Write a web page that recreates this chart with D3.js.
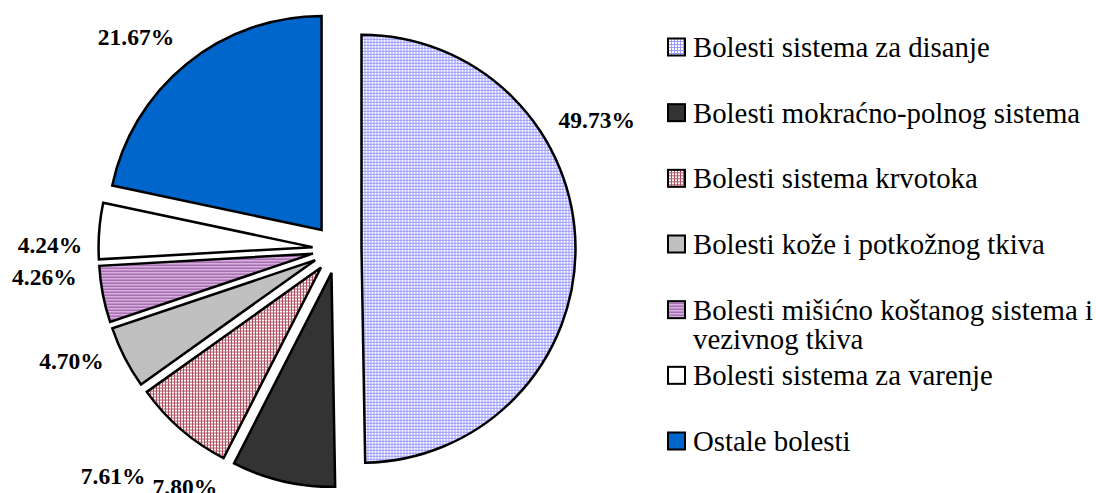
<!DOCTYPE html>
<html>
<head>
<meta charset="utf-8">
<script src="https://cdn.jsdelivr.net/npm/d3@7"></script>
<style>
  body { margin: 0; background: #fff; }
  svg { display: block; font-family: "Liberation Serif", "Times New Roman", serif; }
</style>
</head>
<body>
<svg id="chart" width="1096" height="493"></svg>
<script>
// data
var categories = [
  "Bolesti sistema za disanje",
  "Bolesti mokraćno-polnog sistema",
  "Bolesti sistema krvotoka",
  "Bolesti kože i potkožnog tkiva",
  "Bolesti mišićno koštanog sistema i vezivnog tkiva",
  "Bolesti sistema za varenje",
  "Ostale bolesti"
];
var shares = [49.73, 7.80, 7.61, 4.70, 4.26, 4.24, 21.67];
var shareLabels = ["49.73%", "7.80%", "7.61%", "4.70%", "4.26%", "4.24%", "21.67%"];

// fills: pattern ids or plain colours
var fills = ["url(#pDisanje)", "#333333", "url(#pKrvotok)", "#c0c0c0", "url(#pMisic)", "#ffffff", "#0066cc"];

// label placement tweaks (degrees off the slice middle, distance from centre)
var labelNudge = [-25.9, 19.6, 3.8, 4.3, 5.5, -3.5, -4.5];
var labelDist = [290, 282, 319, 288, 294, 287, 292];

var svg = d3.select("#chart"),
    cx = 337, cy = 249,
    radius = 214,
    explode = 24.5;

var defs = svg.append("defs");

var p1 = defs.append("pattern").attr("id", "pDisanje")
    .attr("patternUnits", "userSpaceOnUse").attr("width", 3).attr("height", 3);
p1.append("rect").attr("width", 3).attr("height", 3).attr("fill", "#9999ff");
p1.append("rect").attr("x", 1).attr("y", 1).attr("width", 2).attr("height", 2).attr("fill", "#ffffff");

var p2 = defs.append("pattern").attr("id", "pKrvotok")
    .attr("patternUnits", "userSpaceOnUse").attr("width", 3).attr("height", 3);
p2.append("rect").attr("width", 3).attr("height", 3).attr("fill", "#b05060");
p2.append("rect").attr("x", 1).attr("y", 1).attr("width", 2).attr("height", 2).attr("fill", "#ffffff");

var p3 = defs.append("pattern").attr("id", "pMisic")
    .attr("patternUnits", "userSpaceOnUse").attr("width", 3).attr("height", 3);
p3.append("rect").attr("width", 3).attr("height", 3).attr("fill", "#d8b0e0");
p3.append("rect").attr("y", 2).attr("width", 3).attr("height", 1).attr("fill", "#8f4f99");

var pie = d3.pie().sort(null).value(function(d) { return d; });
var arcs = pie(shares);

var arc = d3.arc().innerRadius(0).outerRadius(radius);

var g = svg.append("g").attr("transform", "translate(" + cx + "," + cy + ")");

g.selectAll("path.slice")
  .data(arcs)
  .enter().append("path")
    .attr("class", "slice")
    .attr("transform", function(d) {
      var a = (d.startAngle + d.endAngle) / 2;
      return "translate(" + (Math.sin(a) * explode) + "," + (-Math.cos(a) * explode) + ")";
    })
    .attr("d", arc)
    .attr("fill", function(d, i) { return fills[i]; })
    .attr("stroke", "#000")
    .attr("stroke-width", 2.5)
    .attr("stroke-linejoin", "miter");

g.selectAll("text.pct")
  .data(arcs)
  .enter().append("text")
    .attr("class", "pct")
    .attr("x", function(d, i) {
      var a = (d.startAngle + d.endAngle) / 2 + labelNudge[i] * Math.PI / 180;
      return Math.sin(a) * labelDist[i];
    })
    .attr("y", function(d, i) {
      var a = (d.startAngle + d.endAngle) / 2 + labelNudge[i] * Math.PI / 180;
      return -Math.cos(a) * labelDist[i];
    })
    .attr("dy", "0.35em")
    .attr("text-anchor", "middle")
    .attr("font-size", 23.5)
    .attr("font-weight", "bold")
    .text(function(d, i) { return shareLabels[i]; });

// legend
var ly = d3.scalePoint().domain(d3.range(categories.length)).range([47, 441]);

var legend = svg.append("g")
  .selectAll("g")
  .data(categories)
  .enter().append("g")
    .attr("transform", function(d, i) { return "translate(668," + ly(i) + ")"; });

legend.append("rect")
    .attr("x", 0)
    .attr("y", -8.5)
    .attr("width", 17)
    .attr("height", 17)
    .attr("fill", function(d, i) { return fills[i]; })
    .attr("stroke", "#000")
    .attr("stroke-width", 2);

legend.append("text")
    .attr("x", 25)
    .attr("y", 0)
    .attr("font-size", 28.8)
    .attr("fill", "#000")
    .each(function(d) {
      var t = d3.select(this),
          words = d.split(" "),
          line = [],
          tspan = t.append("tspan").attr("x", 25).attr("dy", "0.35em");
      words.forEach(function(w) {
        line.push(w);
        tspan.text(line.join(" "));
        if (tspan.node().getComputedTextLength() > 410 && line.length > 1) {
          line.pop();
          tspan.text(line.join(" "));
          line = [w];
          tspan = t.append("tspan").attr("x", 25).attr("dy", "1em").text(w);
        }
      });
    });
</script>
</body>
</html>
